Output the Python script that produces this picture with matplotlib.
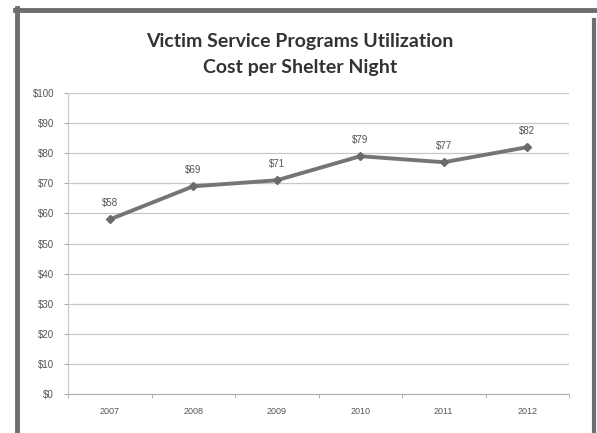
import numpy as np
import matplotlib.pyplot as plt
from matplotlib.lines import Line2D

years = ["2007", "2008", "2009", "2010", "2011", "2012"]
cost = [58, 69, 71, 79, 77, 82]
yticks = [0, 10, 20, 30, 40, 50, 60, 70, 80, 90, 100]

W, H = 597, 433
fig = plt.figure(figsize=(W / 100, H / 100), dpi=100)
fig.patch.set_facecolor("white")

# frame around chart (scanned border)
fc = "#6e6e6e"
fig.add_artist(Line2D([17 / W, 17 / W], [0, 1 - 8 / H], color=fc, lw=3.5))
fig.add_artist(Line2D([15 / W, 1], [1 - 10 / H, 1 - 10 / H], color=fc, lw=3.5))
fig.add_artist(Line2D([594 / W, 594 / W], [0, 1 - 20 / H], color=fc, lw=3))

ax = fig.add_axes([68 / W, 1 - 394 / H, (569 - 68) / W, (394 - 93) / H])
x = np.arange(len(years))
ax.plot(x, cost, color="#757575", lw=2.8, marker="D", ms=4,
        markerfacecolor="#6a6a6a", markeredgecolor="#6a6a6a")
for xi, v in zip(x, cost):
    ax.annotate(f"${v}", (xi, v), xytext=(0, 8), textcoords="offset points",
                ha="center", va="bottom", fontsize=7, color="#555555",
                family="Liberation Sans")

ax.set_xlim(-0.5, len(years) - 0.5)
ax.set_ylim(0, 100)
ax.set_yticks(yticks)
ax.set_yticklabels([f"${t}" for t in yticks], fontsize=7, color="#555555",
                   family="Liberation Sans")
ax.set_xticks(x)
ax.set_xticklabels(years, fontsize=6.5, color="#555555", family="Liberation Sans")
ax.set_xticks(np.arange(-0.5, len(years)), minor=True)
ax.tick_params(axis="x", which="major", length=0, pad=9)
ax.tick_params(axis="x", which="minor", length=3, color="#aaaaaa")
ax.tick_params(axis="y", length=3, color="#aaaaaa", pad=7)
ax.grid(axis="y", color="#c8c8c8", lw=0.9)
ax.set_axisbelow(True)
for s in ["top", "right"]:
    ax.spines[s].set_visible(False)
ax.spines["left"].set_color("#c8c8c8")
ax.spines["bottom"].set_color("#b0b0b0")

fig.text(300 / W, 1 - 42 / H, "Victim Service Programs Utilization",
         ha="center", va="center", fontsize=14, fontweight="bold",
         color="#333333", family="Lato")
fig.text(300 / W, 1 - 68 / H, "Cost per Shelter Night",
         ha="center", va="center", fontsize=14, fontweight="bold",
         color="#333333", family="Lato")

fig.savefig("out.png", dpi=100)
